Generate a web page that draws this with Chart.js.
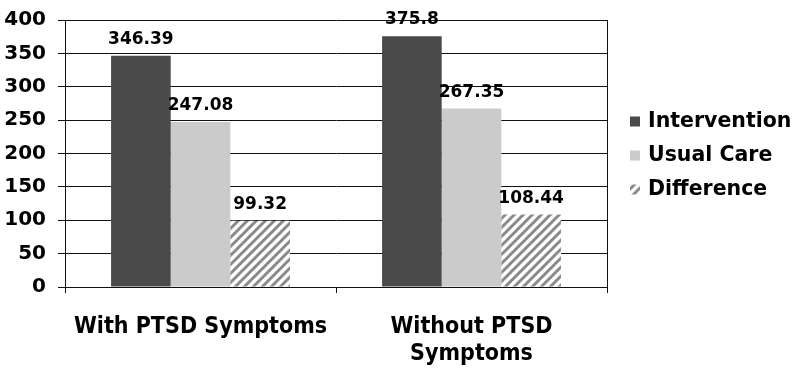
<!DOCTYPE html>
<html>
<head>
<meta charset="utf-8">
<script src="https://cdn.jsdelivr.net/npm/chart.js@4/dist/chart.umd.min.js"></script>
<style>
  html, body { margin: 0; padding: 0; background: #fff; }
  #wrap { width: 800px; height: 370px; }
</style>
</head>
<body>
<div id="wrap"><canvas id="chart"></canvas></div>
<script>
const categories = [['With PTSD Symptoms'], ['Without PTSD', 'Symptoms']];
const seriesNames = ['Intervention', 'Usual Care', 'Difference'];
const intervention = [346.39, 375.8];
const usualCare = [247.08, 267.35];
const difference = [99.32, 108.44];
const yTicks = [0, 50, 100, 150, 200, 250, 300, 350, 400];

// hatch fill for the Difference bars
const makeHatch = () => {
    const p = 9;
    const c = document.createElement('canvas');
    c.width = p; c.height = p;
    const g = c.getContext('2d');
    g.fillStyle = '#fff';
    g.fillRect(0, 0, p, p);
    g.strokeStyle = '#8a8a8a';
    g.lineWidth = 3;
    g.beginPath();
    g.moveTo(-1, p + 1); g.lineTo(p + 1, -1);
    g.moveTo(-1, 1); g.lineTo(1, -1);
    g.moveTo(p - 1, p + 1); g.lineTo(p + 1, p - 1);
    g.stroke();
    return g.createPattern(c, 'repeat');
};

const valueLabels = {
    id: 'valueLabels',
    afterDatasetsDraw(chart) {
        const ctx = chart.ctx;
        ctx.save();
        ctx.font = 'bold 17px "DejaVu Sans"';
        ctx.fillStyle = '#000';
        ctx.textAlign = 'center';
        ctx.textBaseline = 'alphabetic';
        chart.data.datasets.forEach((ds, i) => {
            chart.getDatasetMeta(i).data.forEach((bar, j) => {
                ctx.fillText(String(ds.data[j]), bar.x, bar.y - 12);
            });
        });
        ctx.restore();
    }
};

// right frame line + legend drawn beside the plot
const frameAndLegend = {
    id: 'frameAndLegend',
    afterDraw(chart) {
        const a = chart.chartArea;
        const ctx = chart.ctx;
        ctx.save();
        ctx.strokeStyle = '#111';
        ctx.lineWidth = 1;
        ctx.beginPath();
        ctx.moveTo(Math.round(a.right) + 0.5, a.top);
        ctx.lineTo(Math.round(a.right) + 0.5, a.bottom + 6);
        ctx.stroke();

        const mid = (a.top + a.bottom) / 2;
        const boxX = a.right + 23;
        ctx.font = 'bold 20.5px "DejaVu Sans"';
        ctx.textBaseline = 'middle';
        ctx.textAlign = 'left';
        chart.data.datasets.forEach((ds, i) => {
            const cy = mid + (i - 1) * 34 + 2;
            ctx.fillStyle = ds.backgroundColor;
            ctx.fillRect(boxX, cy - 5, 10, 10);
            ctx.fillStyle = '#000';
            ctx.fillText(ds.label, boxX + 18, cy);
        });
        ctx.restore();
    }
};

const chart = new Chart(document.getElementById('chart').getContext('2d'), {
    type: 'bar',
    data: {
        labels: categories,
        datasets: [{
            label: seriesNames[0],
            data: intervention,
            backgroundColor: '#4a4a4a'
        }, {
            label: seriesNames[1],
            data: usualCare,
            backgroundColor: '#cbcbcb'
        }, {
            label: seriesNames[2],
            data: difference,
            backgroundColor: makeHatch()
        }]
    },
    options: {
        responsive: true,
        maintainAspectRatio: false,
        animation: false,
        layout: {
            padding: { top: 20, right: 193, left: 4, bottom: 0 }
        },
        datasets: {
            bar: { categoryPercentage: 0.66, barPercentage: 1 }
        },
        plugins: {
            legend: { display: false },
            tooltip: { enabled: false }
        },
        scales: {
            x: {
                grid: { drawOnChartArea: false, color: '#111', tickLength: 6 },
                border: { color: '#111' },
                afterFit: s => { s.height = 83; },
                ticks: {
                    color: '#000',
                    padding: 20,
                    font: { family: '"DejaVu Sans Condensed"', size: 23, weight: 'bold' }
                }
            },
            y: {
                min: 0,
                max: 400,
                afterBuildTicks: axis => { axis.ticks = yTicks.map(v => ({ value: v })); },
                afterFit: s => { s.width = 61; s.paddingTop = 0; },
                grid: { color: '#111', tickLength: 7 },
                border: { color: '#111' },
                ticks: {
                    color: '#000',
                    padding: 12,
                    font: { family: '"DejaVu Sans"', size: 20, weight: 'bold' }
                }
            }
        }
    },
    plugins: [valueLabels, frameAndLegend]
});
</script>
</body>
</html>
